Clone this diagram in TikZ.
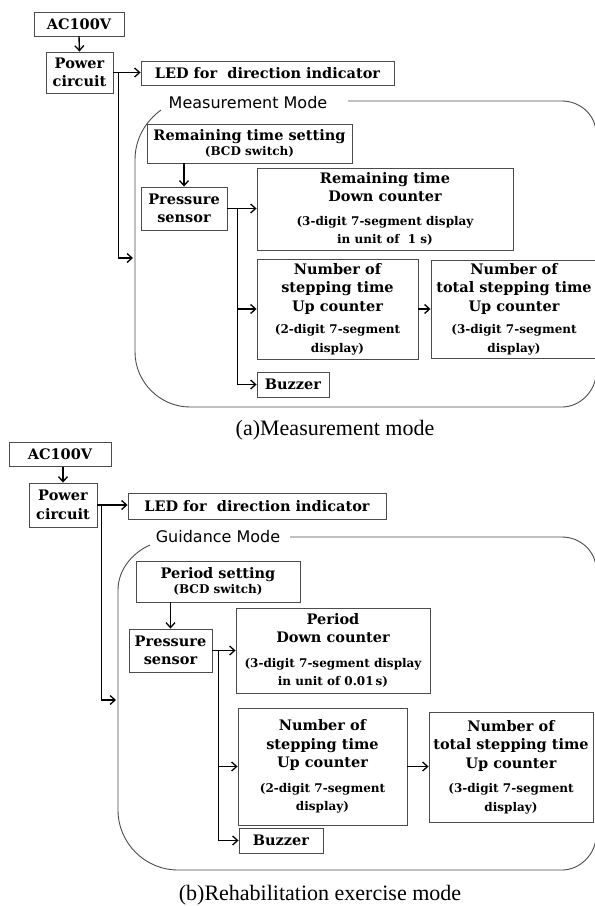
\documentclass[tikz,border=0pt]{standalone}
\usepackage{fontspec}
\setmainfont{DejaVu Serif}
\newfontfamily\capfont{Liberation Serif}
\newfontfamily\modefont{DejaVu Sans}
\usetikzlibrary{arrows.meta,calc}
\newcommand\fsz[2]{\fontsize{#1}{#2}\selectfont}
\newcommand\subf{\fsz{12}{15.5}}
\begin{document}
\begin{tikzpicture}[x=1pt,y=-1pt,
 box/.style={draw=black!70,line width=0.9pt,inner sep=0pt,align=center,font=\bfseries\fsz{14.5}{18.5}},
 arr/.style={line width=1.4pt,-{Straight Barb[length=5pt,width=9pt,line width=1.3pt]}},
 ln/.style={line width=1.4pt},
 frame/.style={draw=black!70,line width=0.9pt},
 modelbl/.style={font=\modefont\fsz{16}{19},inner sep=0pt},
 captext/.style={font=\capfont\fsz{22}{26},inner sep=0pt}]
\useasboundingbox (0,0) rectangle (595,906);

% ---------------- (a) Measurement mode ----------------
\node[box,minimum width=90pt,minimum height=24pt] (ac1) at (79,24) {AC100V};
\node[box,minimum width=67pt,minimum height=41pt] (pw1) at (79.5,72.5) {Power\\circuit};
\node[box,minimum width=253pt,minimum height=24pt] (led1) at (267.5,73) {LED for~~direction indicator};
\node[box,minimum width=205pt,minimum height=39pt] (set1) at (249.5,143.5) {Remaining time setting\\[-3pt]\fsz{12}{14}(BCD switch)};
\node[box,minimum width=86pt,minimum height=43pt] (ps1) at (184,208.5) {Pressure\\sensor};
\node[box,minimum width=256pt,minimum height=82pt] (rem1) at (385,209) {Remaining time\\Down counter\\[5pt]\subf(3-digit 7-segment display\\\subf in unit of~~1 s)};
\node[box,minimum width=161pt,minimum height=100pt] (up1) at (337.5,309) {Number of\\stepping time\\Up counter\\[4pt]\subf(2-digit 7-segment\\\subf display)};
\node[box,minimum width=166pt,minimum height=98pt] (tot1) at (514,309) {Number of\\total stepping time\\Up counter\\[4pt]\subf(3-digit 7-segment\\\subf display)};
\node[box,minimum width=72pt,minimum height=25pt] (buz1) at (293,384.5) {Buzzer};
\node[modelbl] (mode1) at (248,103) {Measurement Mode};
\node[captext] (cap1) at (335,430) {(a)Measurement mode};

\draw[frame] (348,101) -- (562,101) .. controls (580,101) and (596,115) .. (596,133) -- (596,373)
  .. controls (596,391) and (580,407) .. (562,407) -- (190,407)
  .. controls (160,407) and (135,382) .. (135,352) -- (135,160)
  .. controls (135,138) and (146,121) .. (161,110);

\draw[arr] (ac1.south) -- (pw1.north);
\path (pw1.east) ++(5,0) coordinate (j1);
\draw[arr] (pw1.east) -- (pw1.east -| led1.west);
\coordinate (f1in) at (133,258);
\draw[arr] (j1) |- (f1in);
\draw[arr] (ps1.north |- set1.south) -- (ps1.north);
\path (ps1.east) ++(10,0) coordinate (j2);
\draw[arr] (ps1.east) -- (ps1.east -| rem1.west);
\draw[ln] (j2) -- (j2 |- buz1.west);
\draw[arr] (j2 |- up1.west) -- (up1.west);
\draw[arr] (j2 |- buz1.west) -- (buz1.west);
\draw[arr] (up1.east) -- (up1.east -| tot1.west);

% ---------------- (b) Rehabilitation exercise mode ----------------
\node[box,minimum width=102pt,minimum height=24pt] (ac2) at (60,454.5) {AC100V};
\node[box,minimum width=68pt,minimum height=44pt] (pw2) at (63,505) {Power\\circuit};
\node[box,minimum width=258pt,minimum height=26pt] (led2) at (257,506) {LED for~~direction indicator};
\node[box,minimum width=164pt,minimum height=41pt] (set2) at (218,581.5) {Period setting\\[-3pt]\fsz{12}{14}(BCD switch)};
\node[box,minimum width=83pt,minimum height=43pt] (ps2) at (170.5,650.5) {Pressure\\sensor};
\node[box,minimum width=194pt,minimum height=85pt] (per2) at (333,650.5) {Period\\Down counter\\[6pt]\subf(3-digit 7-segment display\\\subf in unit of 0.01\,s)};
\node[box,minimum width=169pt,minimum height=117pt] (up2) at (322.5,766.5) {Number of\\stepping time\\Up counter\\[6pt]\subf(2-digit 7-segment\\\subf display)};
\node[box,minimum width=164pt,minimum height=110pt] (tot2) at (511,767) {Number of\\total stepping time\\Up counter\\[6pt]\subf(3-digit 7-segment\\\subf display)};
\node[box,minimum width=84pt,minimum height=25pt] (buz2) at (281,840.5) {Buzzer};
\node[modelbl] (mode2) at (218,537) {Guidance Mode};
\node[captext] (cap2) at (320,895) {(b)Rehabilitation exercise mode};

\draw[frame] (290,537) -- (562,537) .. controls (580,537) and (596,551) .. (596,569) -- (596,836)
  .. controls (596,854) and (580,870) .. (562,870) -- (178,870)
  .. controls (145,870) and (118,843) .. (118,810) -- (118,590)
  .. controls (118,570) and (132,553) .. (150,545);

\draw[arr] (ac2.south -| pw2.north) -- (pw2.north);
\path (pw2.east) ++(4,0) coordinate (j3);
\draw[arr] (pw2.east) -- (pw2.east -| led2.west);
\coordinate (f2in) at (116,700);
\draw[arr] (j3) |- (f2in);
\draw[arr] (ps2.north |- set2.south) -- (ps2.north);
\path (ps2.east) ++(6,0) coordinate (j4);
\draw[arr] (ps2.east) -- (ps2.east -| per2.west);
\draw[ln] (j4) -- (j4 |- buz2.west);
\draw[arr] (j4 |- up2.west) -- (up2.west);
\draw[arr] (j4 |- buz2.west) -- (buz2.west);
\draw[arr] (up2.east) -- (up2.east -| tot2.west);
\end{tikzpicture}
\end{document}
